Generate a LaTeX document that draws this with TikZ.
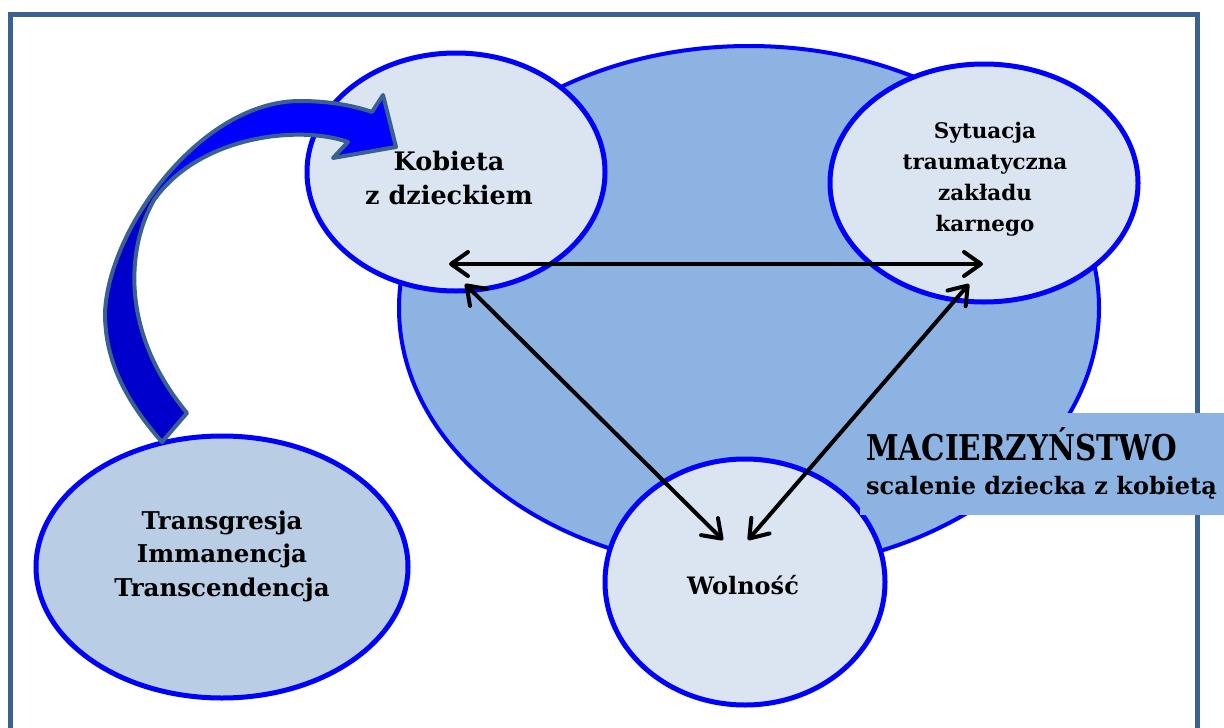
\documentclass[tikz,border=0pt]{standalone}
\usepackage{fontspec}
\setmainfont{DejaVu Serif}
\newfontfamily\narrowserif{DejaVu Serif}[FakeStretch=0.83]
\usetikzlibrary{shapes.geometric,arrows.meta,calc}

\definecolor{frameblue}{HTML}{3A6190}
\definecolor{ringblue}{HTML}{0000FF}
\definecolor{lightfill}{HTML}{DBE5F1}
\definecolor{midfill}{HTML}{8DB3E2}
\definecolor{paleblue}{HTML}{B9CDE5}
\definecolor{bandlight}{HTML}{0000FF}
\definecolor{banddark}{HTML}{0000CC}

% outline of the curved block arrow: head at the top, twisted band, tail at the bottom
\newcommand\bendarrow[1]{%
  \path[#1] (372,112) -- (383,95) -- (396,147) -- (333,158) -- (348,142)
    .. controls (300,125) and (200,135) .. (154,200)
    .. controls (128,245) and (118,330) .. (187,413)
    -- (162,442)
    .. controls (125,400) and (105,360) .. (105,313)
    .. controls (108,230) and (200,101) .. (300,101)
    .. controls (330,101) and (355,106) .. (372,112)
    -- cycle;}

\begin{document}
\begin{tikzpicture}[x=1pt,y=-1pt,
  bubble/.style={ellipse, draw=ringblue, line width=5pt, fill=lightfill,
    inner sep=0pt, outer sep=0pt},
  caption/.style={align=center, text=black, inner sep=0pt},
  link/.style={black, line width=4pt,
    {Straight Barb[length=17pt,width=24pt,round]}-{Straight Barb[length=17pt,width=24pt,round]}}
]
\useasboundingbox (0,0) rectangle (1224,728);

% outer frame
\draw[frameblue, line width=5pt] (10,14) rectangle (1197,770);

% ellipses
\node[bubble, fill=midfill, line width=4pt, minimum width=700pt, minimum height=524pt] (core) at (749,308) {};
\node[bubble, minimum width=298pt, minimum height=238pt] (kob) at (456,172) {};
\node[bubble, minimum width=308pt, minimum height=238pt] (syt) at (984,183) {};
\node[bubble, minimum width=280pt, minimum height=246pt] (wol) at (745,582) {};
\node[bubble, fill=paleblue, minimum width=372pt, minimum height=262pt] (tra) at (222,567) {};

% caption panel
\node[fill=midfill, minimum width=364pt, minimum height=102pt, inner sep=0pt,
  anchor=north west] (tag) at (860,413) {};
\node[caption, anchor=base west, font=\narrowserif\bfseries\fontsize{35.5}{40}\selectfont] (tagA) at (866,460) {MACIERZYŃSTWO};
\node[caption, anchor=base west, font=\bfseries\fontsize{24}{30}\selectfont] (tagB) at (866,494) {scalenie dziecka z kobietą};

% texts in the ellipses
\node[caption, font=\bfseries\fontsize{25.5}{34}\selectfont] (kobT) at (449,178) {Kobieta\\z dzieckiem};
\node[caption, font=\bfseries\fontsize{21.5}{31}\selectfont] (sytT) at (985,179) {Sytuacja\\traumatyczna\\zakładu\\karnego};
\node[caption, font=\bfseries\fontsize{24.5}{33.5}\selectfont] (traT) at (222,556) {Transgresja\\Immanencja\\Transcendencja};
\node[caption, font=\bfseries\fontsize{24}{28}\selectfont] (wolT) at (743,585) {Wolność};

% curved block arrow: darker lower band, lighter upper band
\bendarrow{fill=banddark}
\begin{scope}
  \clip (72,139) -- (232,259) -- (460,259) -- (460,60) -- (72,60) -- cycle;
  \bendarrow{fill=bandlight}
\end{scope}
\bendarrow{draw=frameblue, line width=4pt, line join=round}

% double-headed connectors
\coordinate (kobA) at (449,264);
\coordinate (sytA) at (983,264);
\coordinate (kobB) at (465,284);
\coordinate (wolA) at (723,540);
\coordinate (sytB) at (969,284);
\coordinate (wolB) at (748,540);
\draw[link] (kobA) -- (sytA);
\draw[link] (kobB) -- (wolA);
\draw[link] (sytB) -- (wolB);
\end{tikzpicture}
\end{document}
